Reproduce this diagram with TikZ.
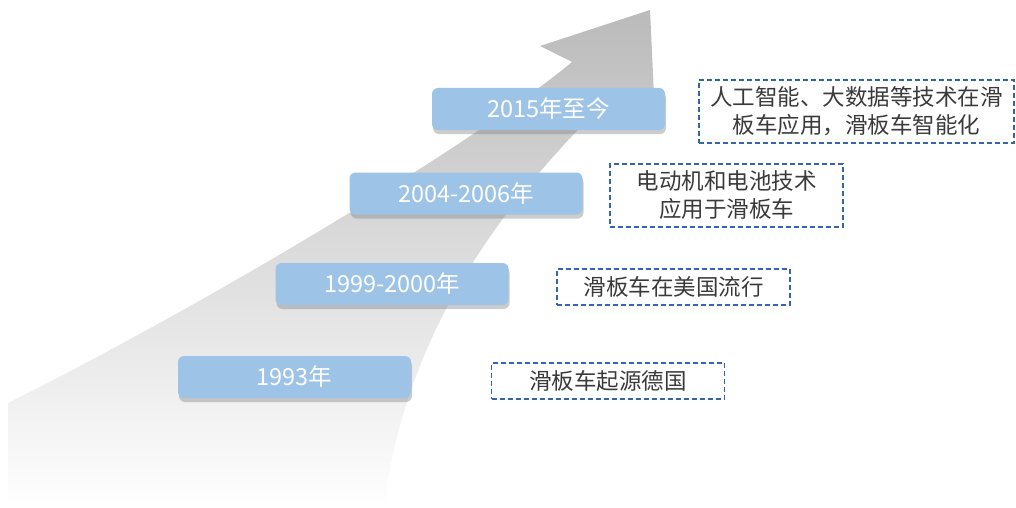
\documentclass[tikz,border=0pt]{standalone}
\usepackage{fontspec}
\setmainfont{Noto Sans CJK SC}
\usetikzlibrary{shadows}
\definecolor{stepblue}{HTML}{9DC3E6}
\definecolor{dashblue}{HTML}{3565A8}
\definecolor{textgray}{HTML}{3A3A3A}
\begin{document}
\begin{tikzpicture}[x=1pt, y=-1pt,
    year/.style={fill=stepblue, rounded corners=6pt, minimum width=233pt, minimum height=42pt,
      inner sep=0pt, text=white, font=\fontsize{23.5}{26}\selectfont,
      drop shadow={shadow xshift=1pt, shadow yshift=-4pt, opacity=.4}},
    event/.style={draw=dashblue, line width=1.2pt, dash pattern=on 5pt off 3pt,
      minimum width=233pt, minimum height=36pt, inner sep=0pt, align=center,
      text=textgray, font=\fontsize{22.5}{28}\selectfont}]
  \useasboundingbox (0,0) rectangle (1016,508);

  \shade[top color=black!27, bottom color=white]
    (8,508) -- (8,403) .. controls (208,303) and (472,145) .. (572,62)
    -- (540,46) -- (650,10) -- (654,95) -- (612,95)
    .. controls (505,200) and (405,330) .. (384,508) -- cycle;

  \foreach \n/\x/\y/\t in {a/294.5/377/1993年, b/392/284/1999-2000年,
                          c/466/193.5/2004-2006年, d/548.5/109/2015年至今}
    \node[year] (year-\n) at (\x,\y) {\t};

  \node[event] (event-a) at (608,381) {滑板车起源德国};
  \node[event] (event-b) at (673.5,287) {滑板车在美国流行};
  \node[event, minimum height=63pt] (event-c) at (726.5,195.5) {电动机和电池技术\\应用于滑板车};
  \node[event, minimum width=315pt, minimum height=63pt] (event-d) at (856.5,111.5)
    {人工智能、大数据等技术在滑\\板车应用，滑板车智能化};
\end{tikzpicture}
\end{document}
